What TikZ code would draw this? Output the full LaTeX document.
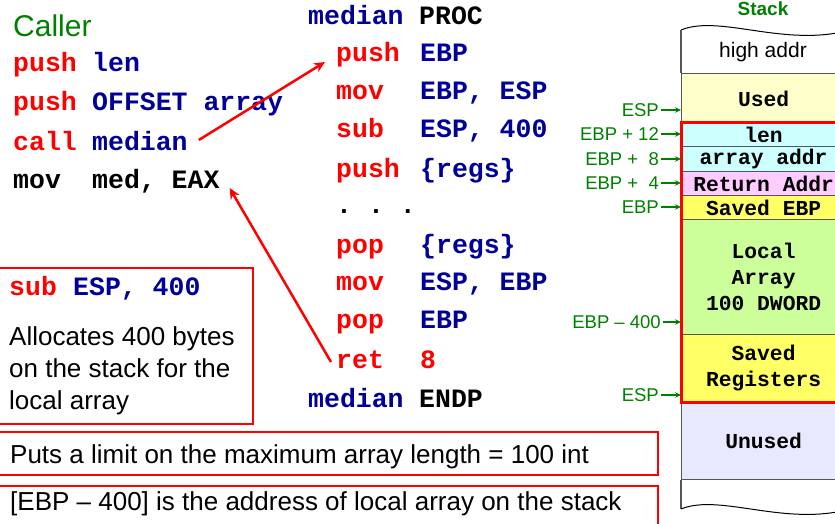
\documentclass[tikz,border=0pt]{standalone}
\usepackage{fontspec}
\setmainfont{Liberation Sans}
\setmonofont{Liberation Mono}
\usetikzlibrary{arrows.meta}
\definecolor{cred}{RGB}{255,0,0}
\definecolor{cblue}{RGB}{0,0,153}
\definecolor{cgreen}{RGB}{0,128,0}
\definecolor{fused}{RGB}{255,255,204}
\definecolor{fcyan}{RGB}{204,255,255}
\definecolor{fpink}{RGB}{255,204,255}
\definecolor{fyel}{RGB}{255,255,102}
\definecolor{fgreen}{RGB}{204,255,153}
\definecolor{flav}{RGB}{232,232,255}
\definecolor{sep}{RGB}{85,85,85}
\newcommand{\codefnt}{\ttfamily\bfseries\fontsize{26.5}{32}\selectfont}
\newcommand{\stackfnt}{\ttfamily\bfseries\fontsize{21.3}{26}\selectfont}
\newcommand{\boxfnt}{\fontsize{26}{32}\selectfont}
\newcommand{\lblfnt}{\fontsize{18.5}{22}\selectfont}
\begin{document}
\begin{tikzpicture}[x=1pt,y=-1pt,
  code/.style={font=\codefnt, inner sep=0pt, anchor=base west},
  txt/.style={font=\boxfnt, inner sep=0pt, anchor=base west},
  cell/.style={draw=sep, line width=1.2pt, minimum width=164pt, inner sep=0pt, anchor=north west, font=\stackfnt, align=center},
  glabel/.style={font=\lblfnt, text=cgreen, inner sep=2pt, anchor=east},
  garrow/.style={draw=cgreen, line width=1.3pt, -{Stealth[length=6pt,width=5.5pt]}},
  rarrow/.style={draw=cred, line width=2.5pt, -{Stealth[length=11pt,width=10pt]}},
  redbox/.style={draw=cred, line width=1.8pt, inner sep=0pt, anchor=north west}
]
\useasboundingbox (0,0) rectangle (835,524);
\clip (0,0) rectangle (835,524);

% ---------- caller ----------
\node[inner sep=0pt, anchor=base west, font=\fontsize{30}{36}\selectfont, text=cgreen] (caller) at (13,37) {Caller};
\node[code, text=cred] (c1m) at (13,72) {push};
\node[code, text=cblue] (c1o) at (92,72) {len};
\node[code, text=cred] (c2m) at (13,111) {push};
\node[code, text=cblue] (c2o) at (92,111) {OFFSET array};
\node[code, text=cred] (c3m) at (13,150) {call};
\node[code, text=cblue] (callop) at (92,150) {median};
\node[code] (c4m) at (13,188) {mov};
\node[code] (eax) at (92,188) {med, EAX};

% ---------- procedure ----------
\node[code, text=cblue] (p0m) at (308,25) {median};
\node[code] (p0o) at (419,25) {PROC};
\node[code, text=cred] (pushebp) at (336,62) {push};
\node[code, text=cblue] (p1o) at (420,62) {EBP};
\node[code, text=cred] (p2m) at (336,100) {mov};
\node[code, text=cblue] (p2o) at (420,100) {EBP, ESP};
\node[code, text=cred] (p3m) at (336,138) {sub};
\node[code, text=cblue] (p3o) at (420,138) {ESP, 400};
\node[code, text=cred] (p4m) at (336,177) {push};
\node[code, text=cblue] (p4o) at (420,177) {\{regs\}};
\node[code] (dots) at (336,213) {.\ .\ .};
\node[code, text=cred] (p6m) at (336,253) {pop};
\node[code, text=cblue] (p6o) at (420,253) {\{regs\}};
\node[code, text=cred] (p7m) at (336,290) {mov};
\node[code, text=cblue] (p7o) at (420,290) {ESP, EBP};
\node[code, text=cred] (p8m) at (336,328) {pop};
\node[code, text=cblue] (p8o) at (420,328) {EBP};
\node[code, text=cred] (ret) at (336,368) {ret};
\node[code, text=cred] (p9o) at (420,368) {8};
\node[code, text=cblue] (p10m) at (308,407) {median};
\node[code] (p10o) at (419,407) {ENDP};

% ---------- red arrows ----------
\draw[rarrow] ([xshift=11pt,yshift=10pt]callop.base east) -- ([xshift=-11pt]pushebp.base west);
\draw[rarrow] ([xshift=-5pt,yshift=6pt]ret.base west) -- ([xshift=10pt]eax.base east);

% ---------- note boxes ----------
\node[redbox, minimum width=254pt, minimum height=156pt] (box1) at (-2,267) {};
\node[code, text=cred] (b1m) at (9,295) {sub};
\node[code, text=cblue] (b1o) at (73,295) {ESP, 400};
\node[txt] (b1t1) at (9,345) {Allocates 400 bytes};
\node[txt] (b1t2) at (9,377) {on the stack for the};
\node[txt] (b1t3) at (9,409) {local array};

\node[redbox, minimum width=659pt, minimum height=43pt] (box2) at (-2,431) {};
\node[txt] (b2t) at (10,463) {Puts a limit on the maximum array length = 100 int};

\node[redbox, minimum width=659pt, minimum height=60pt] (box3) at (-2,485) {};
\node[txt] (b3t) at (10,510) {[EBP – 400] is the address of local array on the stack};

% ---------- stack ----------
\node[inner sep=0pt, anchor=base, font=\bfseries\fontsize{19}{23}\selectfont, text=cgreen] (title) at (763,16) {Stack};
\draw[draw=black, line width=1pt] (681,30) .. controls (720,14) and (785,48) .. (850,30);
\draw[draw=sep, line width=1.2pt] (681,30) -- (681,73);
\node[inner sep=0pt, font=\fontsize{21}{25}\selectfont] (high) at (763,52) {high addr};

\node[cell, fill=fused, minimum height=50pt] (used) at (681,73) {Used};
\node[cell, fill=fcyan, minimum height=23pt] (len) at (681,123) {len};
\node[cell, fill=fcyan, minimum height=25pt] (arr) at (681,146) {array addr};
\node[cell, fill=fpink, minimum height=24pt] (retaddr) at (681,171) {Return Addr};
\node[cell, fill=fyel, minimum height=24pt] (sebp) at (681,195) {Saved EBP};
\node[cell, fill=fgreen, minimum height=115pt] (local) at (681,219) {Local\\Array\\100 DWORD};
\node[cell, fill=fyel, minimum height=67pt] (sregs) at (681,334) {Saved\\Registers};
\node[cell, fill=flav, minimum height=78pt] (unused) at (681,401) {Unused};
\draw[draw=sep, line width=1.2pt] (unused.south west) -- (681,509);
\draw[draw=black, line width=1pt] (681,509) .. controls (720,493) and (785,527) .. (850,509);
\draw[draw=cred, line width=3pt] (len.north west) rectangle (sregs.south east);

% ---------- green labels ----------
\node[glabel] (gesp1) at (661,110) {ESP};
\node[glabel] (g12) at (661,134) {EBP + 12};
\node[glabel] (g8) at (661,159) {EBP + \ 8};
\node[glabel] (g4) at (661,183) {EBP + \ 4};
\node[glabel] (gebp) at (661,207) {EBP};
\node[glabel] (g400) at (663,322) {EBP – 400};
\node[glabel] (gesp2) at (661,395) {ESP};
\foreach \n in {gesp1,g12,g8,g4,gebp,g400,gesp2}
  \draw[garrow] (\n.east) -- (\n.east -| used.west);
\end{tikzpicture}
\end{document}
